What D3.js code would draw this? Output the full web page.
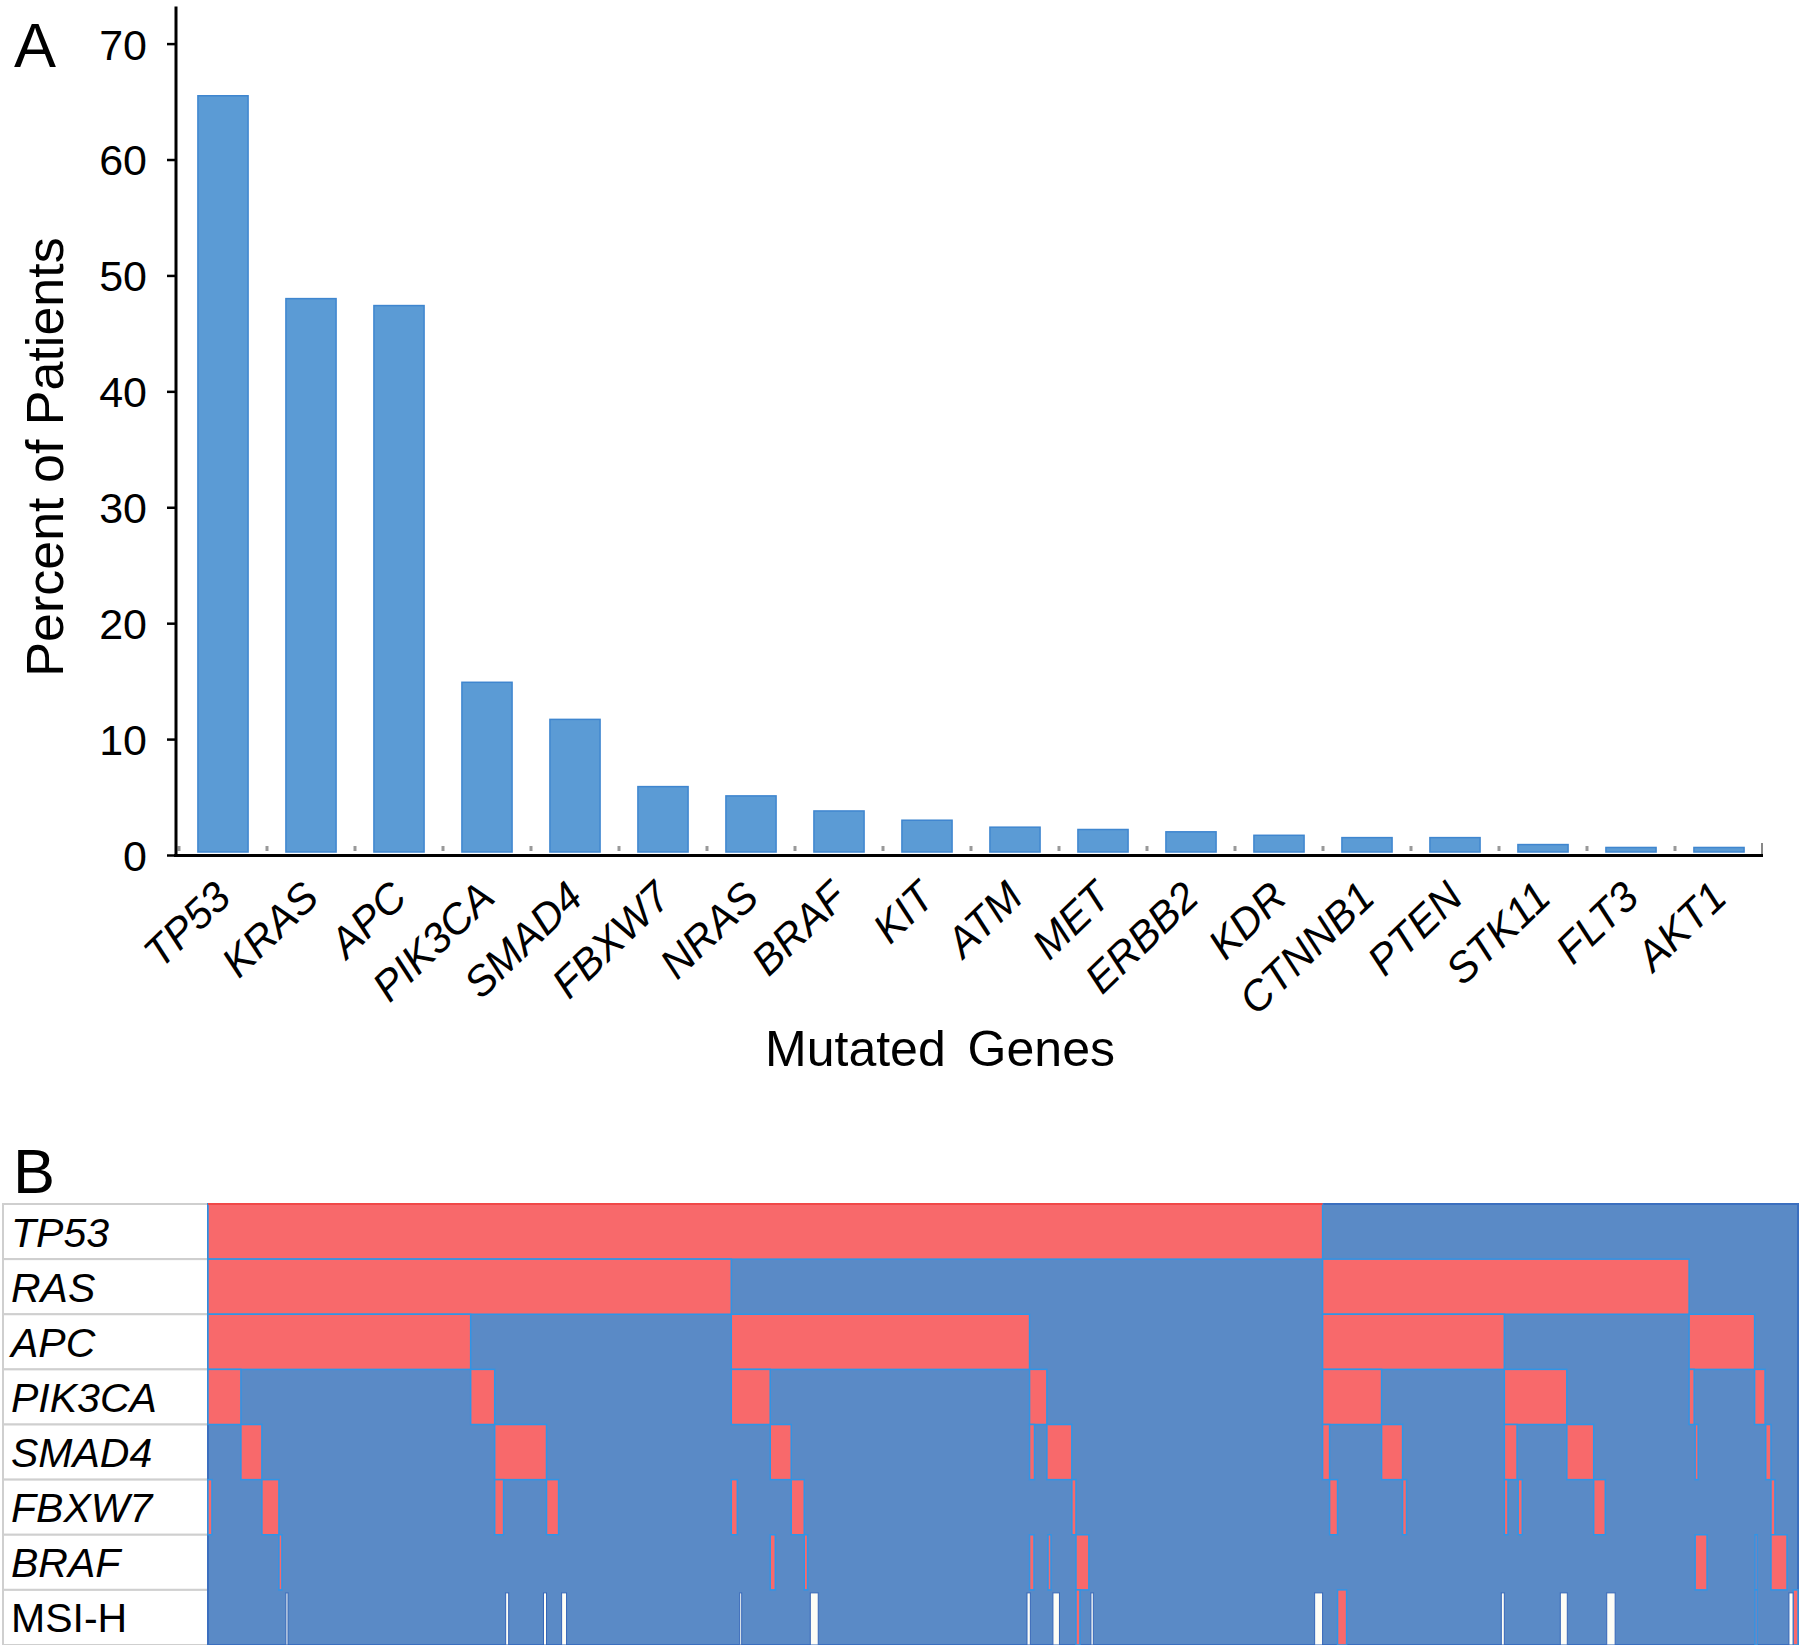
<!DOCTYPE html>
<html>
<head>
<meta charset="utf-8">
<script src="https://cdn.jsdelivr.net/npm/d3@7"></script>
<style>
  body { margin: 0; background: #fff; }
  svg { display: block; font-family: "Liberation Sans", Arial, sans-serif; }
</style>
</head>
<body>
<div id="chart"></div>
<script>
// panel A: percent of patients per mutated gene
const genes = ["TP53", "KRAS", "APC", "PIK3CA", "SMAD4", "FBXW7", "NRAS", "BRAF", "KIT",
  "ATM", "MET", "ERBB2", "KDR", "CTNNB1", "PTEN", "STK11", "FLT3", "AKT1"];
const pctPatients = [65.5, 48.0, 47.4, 14.9, 11.7, 5.9, 5.1, 3.8, 3.0,
  2.4, 2.2, 2.0, 1.7, 1.5, 1.5, 0.9, 0.65, 0.65];
const yTicks = [0, 10, 20, 30, 40, 50, 60, 70];

// panel B: mutation map, spans in % of patients (left to right)
const rowLabels = ["TP53", "RAS", "APC", "PIK3CA", "SMAD4", "FBXW7", "BRAF", "MSI-H"];
const tp53Spans = [[0, 70.1]];
const rasSpans = [[0, 32.91], [70.1, 93.15]];
const apcSpans = [[0, 16.52], [32.91, 51.67], [70.1, 81.53], [93.15, 97.27]];
const pik3caSpans = [[0, 2.07], [16.52, 18.03], [32.91, 35.36], [51.67, 52.76], [70.1, 73.81],
  [81.53, 85.46], [93.15, 93.47], [97.27, 97.93]];
const smad4Spans = [[2.07, 3.39], [18.03, 21.29], [35.36, 36.68], [51.67, 51.98], [52.76, 54.33],
  [70.1, 70.54], [73.81, 75.13], [81.53, 82.33], [85.46, 87.15], [93.53, 93.72], [97.97, 98.3]];
const fbxw7Spans = [[0, 0.25], [3.39, 4.46], [18.03, 18.59], [21.29, 22.05], [32.91, 33.29],
  [36.68, 37.5], [54.33, 54.59], [70.54, 71.04], [75.13, 75.38], [81.53, 81.76], [82.4, 82.66],
  [87.15, 87.88], [98.3, 98.55]];
const brafSpans = [[4.46, 4.65], [35.36, 35.68], [37.5, 37.71], [51.67, 51.95], [52.83, 53.02],
  [54.59, 55.4], [93.53, 94.28], [97.3, 97.42], [98.3, 99.31]];
const msiSpans = [[54.59, 54.84], [71.04, 71.61], [97.3, 97.42], [99.69, 100]];
const msiNoData = [[4.9, 5.03], [18.72, 18.91], [21.1, 21.29], [22.24, 22.55], [33.44, 33.54],
  [37.88, 38.38], [51.51, 51.72], [53.14, 53.55], [55.53, 55.68], [69.6, 70.1], [81.34, 81.53],
  [85.05, 85.49], [87.97, 88.5], [99.43, 99.69]];

const W = 1800, H = 1645;
const svg = d3.select("#chart").append("svg")
  .attr("width", W).attr("height", H);

// ---------- panel A ----------
const x = d3.scaleBand().domain(genes).range([179, 1763])
  .paddingInner(0.43).paddingOuter(0.215);
const y = d3.scaleLinear().domain([0, 70]).range([855, 43.6]);

svg.append("text").attr("x", 14).attr("y", 67)
  .attr("font-size", 63).text("A");

svg.selectAll("rect.bar")
  .data(genes)
  .join("rect")
  .attr("class", "bar")
  .attr("x", d => x(d))
  .attr("width", x.bandwidth())
  .attr("y", (d, i) => y(pctPatients[i]))
  .attr("height", (d, i) => y(0) - 3 - y(pctPatients[i]))
  .attr("fill", "#5b9bd5")
  .attr("stroke", "#3f86cf")
  .attr("stroke-width", 1.5);

// small grey dots at the category boundaries
const bounds = d3.range(genes.length + 1).map(i => 179 + i * x.step());
svg.selectAll("rect.dot")
  .data(bounds.slice(0, -1))
  .join("rect")
  .attr("class", "dot")
  .attr("x", d => d - 1.5).attr("y", 846)
  .attr("width", 3).attr("height", 5)
  .attr("fill", "#999");
svg.append("line")
  .attr("x1", 1762).attr("x2", 1762).attr("y1", 843).attr("y2", 855)
  .attr("stroke", "#888").attr("stroke-width", 2);

const yAxis = svg.append("g")
  .attr("transform", "translate(176,0)")
  .call(d3.axisLeft(y).tickValues(yTicks).tickSize(9).tickSizeOuter(0).tickPadding(20));
yAxis.select(".domain").attr("d", `M0,${y(73.2)}V${y(0)}`)
  .attr("stroke", "#000").attr("stroke-width", 3);
yAxis.selectAll(".tick line").attr("stroke", "#000").attr("stroke-width", 2.5);
yAxis.selectAll(".tick text")
  .attr("font-size", 43).attr("fill", "#000")
  .attr("font-family", "Liberation Sans, Arial, sans-serif")
  .attr("dy", "0.36em");

// x axis line
svg.append("line")
  .attr("x1", 174).attr("x2", 1763).attr("y1", 855.5).attr("y2", 855.5)
  .attr("stroke", "#000").attr("stroke-width", 3);

svg.selectAll("text.gene")
  .data(genes)
  .join("text")
  .attr("class", "gene")
  .attr("text-anchor", "end")
  .attr("font-size", 42)
  .attr("font-style", "italic")
  .attr("transform", d => `translate(${x(d) + x.bandwidth() / 2 + 10},${900}) rotate(-44)`)
  .text(d => d);

svg.append("text")
  .attr("x", 940).attr("y", 1066)
  .attr("text-anchor", "middle")
  .attr("font-size", 50)
  .attr("word-spacing", 8)
  .text("Mutated Genes");

svg.append("text")
  .attr("transform", "translate(63,457) rotate(-90)")
  .attr("text-anchor", "middle")
  .attr("font-size", 52)
  .text("Percent of Patients");

// ---------- panel B ----------
svg.append("text").attr("x", 13).attr("y", 1193)
  .attr("font-size", 63).text("B");

const rowSpans = [tp53Spans, rasSpans, apcSpans, pik3caSpans, smad4Spans, fbxw7Spans, brafSpans, msiSpans];
const hx = d3.scaleLinear().domain([0, 100]).range([208, 1798]);
const hy = d3.scaleBand().domain(rowLabels).range([1204, 1645]);

// label cells
const cells = svg.append("g");
cells.selectAll("rect")
  .data(rowLabels)
  .join("rect")
  .attr("x", 3).attr("y", d => hy(d))
  .attr("width", 205).attr("height", hy.bandwidth())
  .attr("fill", "#fff")
  .attr("stroke", "#cfcfcf").attr("stroke-width", 2);
cells.selectAll("text")
  .data(rowLabels)
  .join("text")
  .attr("x", 11)
  .attr("y", d => hy(d) + hy.bandwidth() / 2 + 15)
  .attr("font-size", 41)
  .attr("font-style", d => d === "MSI-H" ? "normal" : "italic")
  .text(d => d);

// blue background (not mutated)
svg.append("rect")
  .attr("x", hx(0)).attr("y", hy.range()[0])
  .attr("width", hx(100) - hx(0)).attr("height", hy.range()[1] - hy.range()[0])
  .attr("fill", "#5a8ac6")
  .attr("stroke", "#3b6fbf").attr("stroke-width", 2);

const redCells = [];
rowLabels.forEach((r, i) => rowSpans[i].forEach(s => redCells.push({ row: r, a: s[0], b: s[1] })));

svg.append("g").selectAll("rect")
  .data(redCells)
  .join("rect")
  .attr("x", d => hx(d.a))
  .attr("y", d => hy(d.row))
  .attr("width", d => Math.max(hx(d.b) - hx(d.a), 2))
  .attr("height", hy.bandwidth())
  .attr("fill", "#f8696b")
  .attr("stroke", "#2f95e6").attr("stroke-width", 1.5);

svg.append("g").selectAll("rect")
  .data(msiNoData)
  .join("rect")
  .attr("x", d => hx(d[0]))
  .attr("y", hy("MSI-H") + 3)
  .attr("width", d => Math.max(hx(d[1]) - hx(d[0]), 2))
  .attr("height", hy.bandwidth() - 3)
  .attr("fill", "#fdfdf6")
  .attr("stroke", "#3566b8").attr("stroke-width", 1);

// red top edge where TP53 is mutated
svg.append("line")
  .attr("x1", hx(tp53Spans[0][0])).attr("x2", hx(tp53Spans[0][1]))
  .attr("y1", 1204).attr("y2", 1204)
  .attr("stroke", "#f04848").attr("stroke-width", 2);
</script>
</body>
</html>
